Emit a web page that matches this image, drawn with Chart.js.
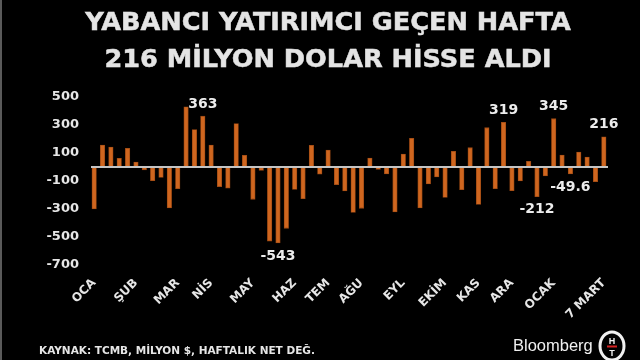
<!DOCTYPE html>
<html>
<head>
<meta charset="utf-8">
<script src="https://cdn.jsdelivr.net/npm/chart.js@4.4.1/dist/chart.umd.min.js"></script>
<style>
html,body{margin:0;padding:0;background:#000;}
#wrap{position:relative;width:640px;height:360px;background:#000;overflow:hidden;}
#c{position:absolute;left:0;top:0;}
.t{position:absolute;left:328px;transform:translateX(-50%);white-space:nowrap;font-family:"DejaVu Sans",sans-serif;font-weight:bold;font-size:25.6px;line-height:25px;color:#e4e4e4;-webkit-text-stroke:0.5px #e4e4e4;}
#src{position:absolute;left:39px;top:345px;white-space:nowrap;font-family:"DejaVu Sans",sans-serif;font-weight:bold;font-size:10.5px;line-height:10.5px;color:#e6e6e6;}
#bb{position:absolute;left:513px;top:337px;white-space:nowrap;font-family:"Liberation Sans",Arial,sans-serif;font-size:16.5px;line-height:16.5px;color:#f0f0f0;}
#logo{position:absolute;left:597px;top:330px;}
#edge{position:absolute;left:0;top:0;width:2px;height:360px;background:#5a5a5a;}
</style>
</head>
<body>
<div id="wrap">
<canvas id="c" width="640" height="360"></canvas>
<div class="t" style="top:9px">YABANCI YATIRIMCI GEÇEN HAFTA</div>
<div class="t" style="top:46px">216 MİLYON DOLAR HİSSE ALDI</div>
<div id="src">KAYNAK: TCMB, MİLYON $, HAFTALIK NET DEĞ.</div>
<div id="bb">Bloomberg</div>
<svg id="logo" width="30" height="32" viewBox="0 0 30 32">
  <ellipse cx="15" cy="16" rx="12" ry="14" fill="none" stroke="#f0f0f0" stroke-width="3"/>
  <text x="15" y="14" text-anchor="middle" font-family="Liberation Sans" font-weight="bold" font-size="9" fill="#f0f0f0">H</text>
  <rect x="10" y="15.5" width="10" height="2" fill="#d42020"/>
  <text x="15" y="26" text-anchor="middle" font-family="Liberation Sans" font-weight="bold" font-size="9" fill="#f0f0f0">T</text>
</svg>
<div id="edge"></div>
</div>
<script>
// Weekly net foreign equity flows (million $), 62 weeks
const weeklyValues = [
  -300, 157, 143, 62, 133, 36, -20, -98, -74, -293,
  -155, 430, 267, 363, 157, -140, -152, 310, 83, -231,
  -24, -529, -543, -438, -160, -226, 155, -52, 121, -126,
  -171, -324, -295, 64, -17, -50, -321, 93, 205, -293,
  -121, -71, -217, 112, -162, 138, -267, 281, -155, 319,
  -169, -100, 40, -212, -64, 345, 86, -49.6, 107, 71,
  -105, 216
];
// Month tick labels and the week index where each one sits
const monthNames = ["OCA","ŞUB","MAR","NİS","MAY","HAZ","TEM","AĞU","EYL","EKİM","KAS","ARA","OCAK","7 MART"];
const monthWeekIndex = [0, 5, 10, 14, 19, 24, 28, 32, 37, 42, 46, 50, 55, 61];
// Bars whose values are written on the chart
const labeledBars = [13, 22, 49, 53, 55, 57, 61];
// Y axis ticks
const yMin = -700, yMax = 500, yStep = 200;

const categories = weeklyValues.map((v, i) => {
  const k = monthWeekIndex.indexOf(i);
  return k >= 0 ? monthNames[k] : "";
});

const zeroLine = {
  id: 'zeroLine',
  afterDatasetsDraw(chart) {
    const {ctx, chartArea, scales} = chart;
    const y = scales.y.getPixelForValue(0);
    ctx.save();
    ctx.strokeStyle = '#c4c4c4';
    ctx.lineWidth = 2;
    ctx.beginPath();
    ctx.moveTo(chartArea.left + 1, y);
    ctx.lineTo(chartArea.right, y);
    ctx.stroke();
    ctx.restore();
  }
};

const valueLabels = {
  id: 'valueLabels',
  afterDatasetsDraw(chart) {
    const {ctx} = chart;
    const meta = chart.getDatasetMeta(0);
    ctx.save();
    ctx.fillStyle = '#ececec';
    ctx.font = 'bold 14px "DejaVu Sans"';
    ctx.textAlign = 'center';
    ctx.textBaseline = 'middle';
    labeledBars.forEach(i => {
      const el = meta.data[i];
      const v = weeklyValues[i];
      const y = v >= 0 ? el.y - 12 : el.y + 13;
      ctx.fillText(String(v), el.x, y);
    });
    ctx.restore();
  }
};

new Chart(document.getElementById('c'), {
  type: 'bar',
  data: {
    labels: categories,
    datasets: [{
      data: weeklyValues,
      backgroundColor: '#cf661f',
      borderColor: '#9a4813',
      borderWidth: 0.8,
      barThickness: 4.5
    }]
  },
  options: {
    responsive: false,
    animation: false,
    devicePixelRatio: 1,
    layout: {padding: {top: 97, right: 32, bottom: 0, left: 0}},
    plugins: {legend: {display: false}, title: {display: false}, tooltip: {enabled: false}},
    scales: {
      x: {
        grid: {display: false, drawTicks: false},
        border: {display: false},
        ticks: {
          autoSkip: false,
          maxRotation: 45,
          minRotation: 45,
          padding: 11,
          color: '#e6e6e6',
          font: {family: 'DejaVu Sans', weight: 'bold', size: 12}
        },
        afterFit(s) { s.height = 95; }
      },
      y: {
        min: yMin,
        max: yMax,
        grid: {display: false, drawTicks: false},
        border: {display: false},
        ticks: {
          stepSize: yStep,
          padding: 11,
          color: '#e6e6e6',
          font: {family: 'DejaVu Sans', weight: 'bold', size: 13}
        },
        afterFit(s) { s.width = 90; }
      }
    }
  },
  plugins: [zeroLine, valueLabels]
});
</script>
</body>
</html>
